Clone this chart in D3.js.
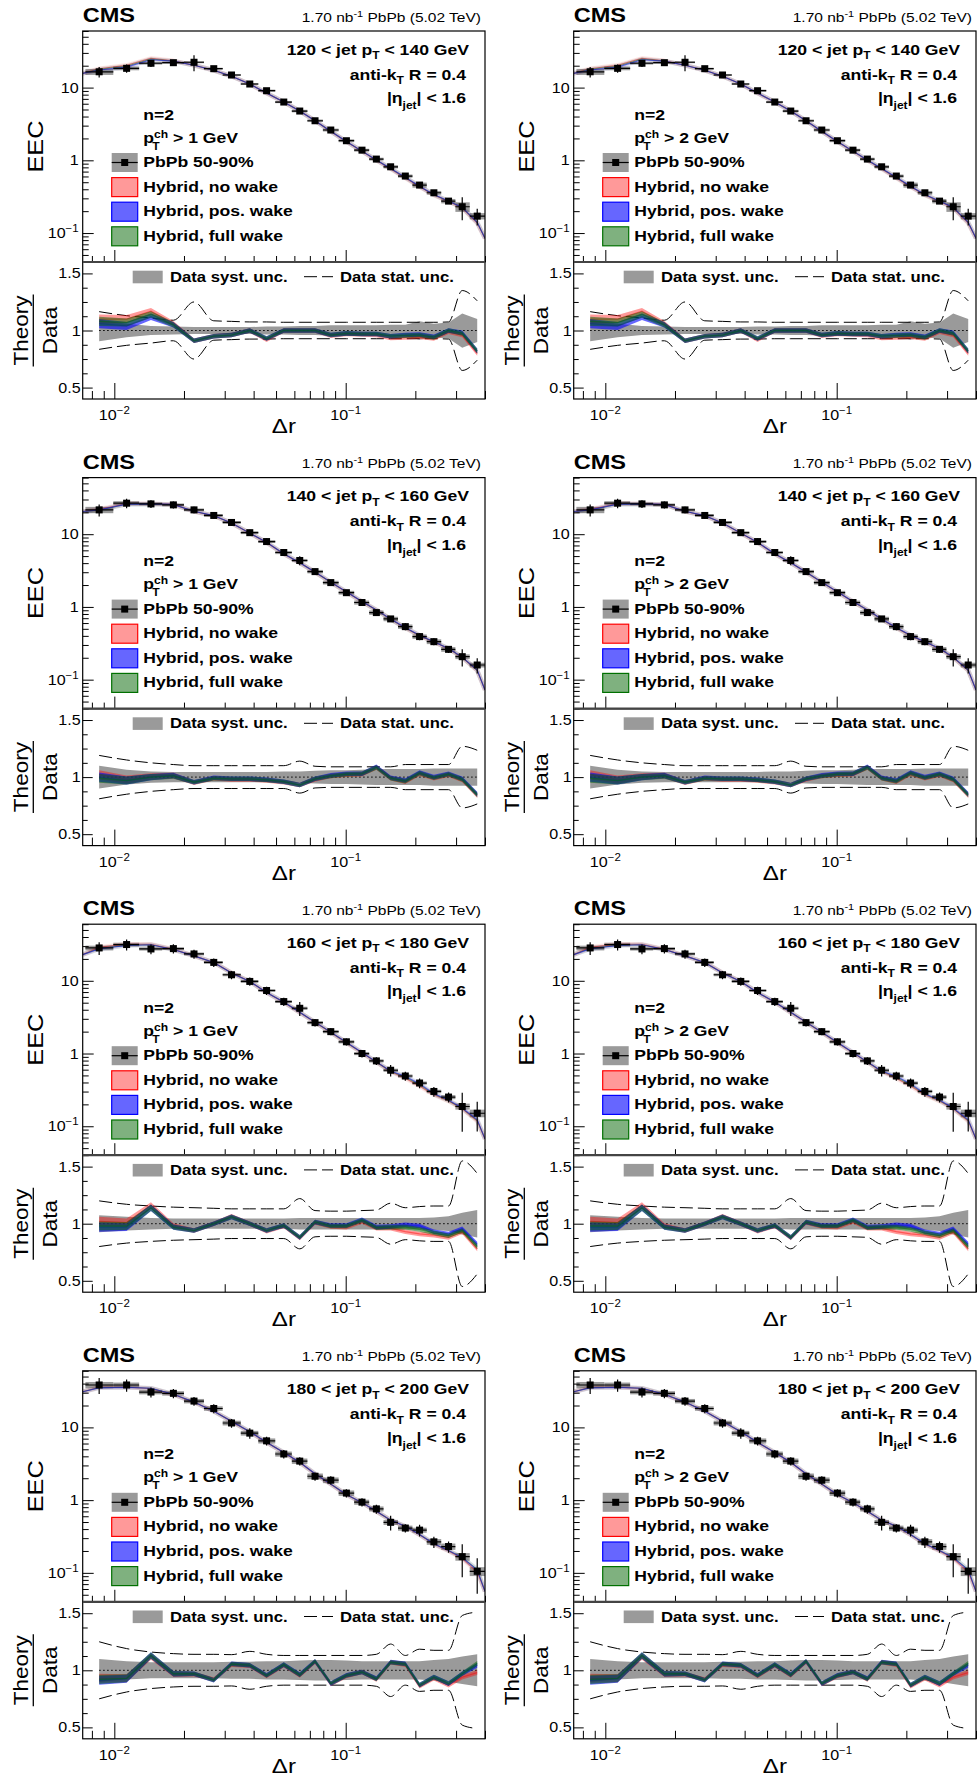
<!DOCTYPE html>
<html><head><meta charset="utf-8">
<script src="https://cdn.jsdelivr.net/npm/d3@7"></script>
<style>body{margin:0;background:#fff}text{font-family:"Liberation Sans",Arial,Helvetica,sans-serif}</style>
</head><body><svg id="c" width="977" height="1780"></svg>
<script>
// ---------------- DATA ----------------
const drCenters = [0.0086, 0.0113, 0.0144, 0.018, 0.0221, 0.0269, 0.0321, 0.0385, 0.0455, 0.054, 0.0633, 0.0737, 0.0862, 0.1007, 0.1176, 0.1357, 0.1564, 0.181, 0.2086, 0.2405, 0.2783, 0.3189, 0.3702];
const drEdges = [0.0075, 0.0099, 0.0128, 0.0161, 0.02, 0.0244, 0.0294, 0.0352, 0.0419, 0.0496, 0.0585, 0.0683, 0.0797, 0.0932, 0.1088, 0.1263, 0.1457, 0.1683, 0.1943, 0.224, 0.2587, 0.2979, 0.3436, 0.4];

const jetPtLo = [120, 140, 160, 180];
const jetPtHi = [140, 160, 180, 200];
const trackPtMin = [1, 2];

const eec120 = [16.5, 18.4, 21.6, 22.0, 22.3, 18.2, 14.9, 11.2, 9.06, 6.33, 4.76, 3.50, 2.61, 1.86, 1.38, 1.04, 0.815, 0.608, 0.457, 0.358, 0.275, 0.230, 0.171];
const eec140 = [21.6, 26.7, 26.1, 25.3, 21.6, 18.1, 14.5, 10.5, 7.92, 5.60, 4.35, 3.06, 2.16, 1.57, 1.15, 0.836, 0.684, 0.536, 0.391, 0.333, 0.261, 0.207, 0.159];
const eec160 = [28.3, 31.5, 27.4, 27.7, 23.4, 17.9, 12.1, 9.8, 7.35, 5.18, 4.19, 2.66, 2.0, 1.45, 1.0, 0.792, 0.589, 0.491, 0.393, 0.301, 0.252, 0.187, 0.151];
const eec180 = [38.3, 38.3, 30.6, 29.4, 23.0, 18.2, 11.5, 8.34, 6.53, 4.31, 3.44, 2.13, 1.88, 1.25, 0.938, 0.758, 0.495, 0.413, 0.387, 0.267, 0.230, 0.167, 0.105];

const stat120 = [0.165, 0.13, 0.11, 0.09, 0.25, 0.085, 0.08, 0.075, 0.075, 0.072, 0.072, 0.072, 0.072, 0.072, 0.072, 0.072, 0.072, 0.072, 0.072, 0.072, 0.075, 0.35, 0.26];
const stat140 = [0.19, 0.15, 0.125, 0.11, 0.1, 0.1, 0.1, 0.1, 0.1, 0.1, 0.14, 0.095, 0.09, 0.09, 0.09, 0.09, 0.09, 0.11, 0.11, 0.11, 0.11, 0.27, 0.235];
const stat160 = [0.2, 0.17, 0.155, 0.145, 0.14, 0.135, 0.13, 0.13, 0.13, 0.13, 0.22, 0.115, 0.11, 0.11, 0.115, 0.12, 0.18, 0.14, 0.15, 0.155, 0.155, 0.55, 0.44];
const stat180 = [0.25, 0.19, 0.16, 0.146, 0.14, 0.14, 0.137, 0.166, 0.14, 0.13, 0.13, 0.13, 0.13, 0.13, 0.13, 0.14, 0.23, 0.13, 0.185, 0.175, 0.175, 0.48, 0.51];

const syst120 = [0.095, 0.06, 0.04, 0.035, 0.03, 0.03, 0.03, 0.03, 0.035, 0.035, 0.04, 0.04, 0.045, 0.045, 0.045, 0.045, 0.05, 0.05, 0.08, 0.06, 0.07, 0.15, 0.1];
const syst140 = [0.1, 0.065, 0.05, 0.045, 0.045, 0.045, 0.045, 0.045, 0.045, 0.05, 0.05, 0.055, 0.06, 0.06, 0.065, 0.07, 0.07, 0.07, 0.07, 0.075, 0.075, 0.075, 0.075];
const syst160 = [0.075, 0.06, 0.05, 0.045, 0.045, 0.045, 0.045, 0.045, 0.045, 0.045, 0.05, 0.05, 0.05, 0.05, 0.05, 0.05, 0.05, 0.05, 0.05, 0.055, 0.065, 0.095, 0.12];
const syst180 = [0.1, 0.08, 0.07, 0.07, 0.07, 0.07, 0.075, 0.075, 0.08, 0.08, 0.085, 0.09, 0.09, 0.085, 0.08, 0.08, 0.08, 0.08, 0.08, 0.09, 0.1, 0.12, 0.14];

// Theory / Data ratios
const noWake120 = [1.1, 1.1, 1.17, 1.06, 0.91, 0.95, 0.96, 1.0, 0.92, 1.0, 1.0, 1.0, 0.955, 0.97, 0.965, 0.96, 0.935, 0.94, 0.945, 0.93, 0.99, 0.96, 0.8];
const posWake120 = [1.06, 1.04, 1.12, 1.05, 0.91, 0.95, 0.96, 1.0, 0.93, 1.0, 1.0, 1.0, 0.96, 0.975, 0.97, 0.97, 0.95, 0.96, 0.965, 0.945, 1.0, 0.98, 0.82];
const fullWake120 = [1.08, 1.07, 1.14, 1.05, 0.91, 0.95, 0.96, 1.0, 0.93, 1.0, 1.0, 1.0, 0.96, 0.975, 0.97, 0.97, 0.95, 0.955, 0.96, 0.94, 1.0, 0.975, 0.82];

const noWake140 = [1.02, 0.98, 1.005, 1.015, 0.95, 0.99, 0.98, 0.98, 0.97, 0.955, 0.93, 0.98, 1.01, 1.02, 1.025, 1.085, 0.99, 0.96, 1.03, 0.99, 1.02, 0.975, 0.84];
const posWake140 = [1.0, 0.97, 1.0, 1.015, 0.955, 0.995, 0.985, 0.985, 0.977, 0.96, 0.93, 0.985, 1.015, 1.03, 1.03, 1.09, 0.995, 0.97, 1.04, 1.0, 1.03, 0.985, 0.85];
const fullWake140 = [0.99, 0.97, 1.0, 1.01, 0.955, 0.99, 0.985, 0.985, 0.975, 0.96, 0.93, 0.985, 1.01, 1.025, 1.03, 1.085, 0.99, 0.965, 1.035, 0.995, 1.025, 0.98, 0.845];

const noWake160 = [1.02, 1.01, 1.16, 0.98, 0.94, 1.0, 1.065, 1.0, 0.935, 0.98, 0.875, 1.01, 0.975, 0.97, 1.02, 0.96, 0.96, 0.93, 0.91, 0.9, 0.88, 0.93, 0.78];
const posWake160 = [0.97, 0.97, 1.14, 0.97, 0.94, 1.0, 1.06, 1.0, 0.94, 0.985, 0.88, 1.015, 0.985, 0.985, 1.035, 0.97, 0.975, 0.99, 0.98, 0.93, 0.91, 0.955, 0.82];
const fullWake160 = [0.98, 0.98, 1.14, 0.97, 0.94, 1.0, 1.06, 1.0, 0.94, 0.985, 0.88, 1.015, 0.98, 0.98, 1.03, 0.965, 0.97, 0.97, 0.95, 0.92, 0.895, 0.94, 0.8];

const noWake180 = [0.93, 0.93, 1.12, 0.965, 0.965, 0.92, 1.05, 1.04, 0.95, 1.045, 0.955, 1.075, 0.88, 0.95, 0.985, 0.92, 1.07, 1.05, 0.86, 0.93, 0.87, 0.94, 0.98];
const posWake180 = [0.913, 0.927, 1.13, 0.97, 0.97, 0.913, 1.058, 1.044, 0.956, 1.05, 0.962, 1.08, 0.883, 0.956, 0.985, 0.927, 1.073, 1.058, 0.87, 0.942, 0.883, 0.97, 1.044];
const fullWake180 = [0.92, 0.93, 1.13, 0.97, 0.97, 0.915, 1.055, 1.045, 0.955, 1.05, 0.96, 1.08, 0.885, 0.955, 0.985, 0.925, 1.07, 1.055, 0.87, 0.94, 0.885, 0.97, 1.06];

const hybridUnc = [0.04, 0.035, 0.028, 0.024, 0.02, 0.02, 0.02, 0.02, 0.02, 0.02, 0.02, 0.02, 0.02, 0.02, 0.02, 0.02, 0.02, 0.02, 0.02, 0.02, 0.02, 0.02, 0.022];
// theory EEC at the ends of the plotted Δr range
const theoryEdgeLeft = [15.7, 20.5, 22.9, 30.9];
const theoryEdgeRight = [0.0845, 0.072, 0.067, 0.0556];

const eecTickVals = [0.1, 1, 10];
const eecTickText = [['10', '−1'], ['1', ''], ['10', '']];
const drTickVals = [0.01, 0.1];
const drTickText = [['10', '−2'], ['10', '−1']];
const ratioTickVals = [0.5, 1, 1.5];
const ratioTickText = ['0.5', '1', '1.5'];
const ratioMinorVals = [0.625, 0.75, 0.875, 1.125, 1.25, 1.375];
const legendLabels = ['PbPb 50-90%', 'Hybrid, no wake', 'Hybrid, pos. wake', 'Hybrid, full wake'];

// ---------------- STYLE / LAYOUT ----------------
const rows = [
  {eec: eec120, stat: stat120, syst: syst120, models: [noWake120, posWake120, fullWake120]},
  {eec: eec140, stat: stat140, syst: syst140, models: [noWake140, posWake140, fullWake140]},
  {eec: eec160, stat: stat160, syst: syst160, models: [noWake160, posWake160, fullWake160]},
  {eec: eec180, stat: stat180, syst: syst180, models: [noWake180, posWake180, fullWake180]}
];
const modelStyle = [
  {stroke: '#ff0000', fill: 'rgba(255,0,0,0.4)', fillU: 'rgba(255,0,0,0.1)'},
  {stroke: '#0000ff', fill: 'rgba(0,0,255,0.6)', fillU: 'rgba(60,60,200,0.12)'},
  {stroke: '#007000', fill: 'rgba(0,100,0,0.5)', fillU: 'rgba(0,100,0,0.1)'}
];
const GRAY = '#9a9a9a';
const SX = 1.15;
const colLeft = [82.7, 573.7], plotW = 402.3;
const rowTop0 = 31, rowStep = 446.6, upperH = 231, ratioH = 137;

const svg = d3.select('#c');
const x = d3.scaleLog().domain([0.0073, 0.4]).range([0, plotW]);
const yU = d3.scaleLog().domain([0.04, 60]).range([upperH, 0]);
const yR = d3.scaleLinear().domain([0.4, 1.6]).range([ratioH, 0]);

function stext(parent, px, py, size, weight, anchor, rotate) {
  const g = parent.append('g').attr('transform', `translate(${px},${py})` + (rotate ? ' rotate(-90)' : '') + ` scale(${SX},1)`);
  return g.append('text').attr('x', 0).attr('y', 0).attr('font-size', size)
    .attr('font-weight', weight || 'normal').attr('text-anchor', anchor || 'start')
    .style('white-space', 'pre').attr('fill', '#000');
}

function drawPanel(r, c) {
  const L = colLeft[c], T = rowTop0 + r * rowStep, RT = T + upperH;
  const id = `p${r}${c}`;
  const defs = svg.append('defs');
  defs.append('clipPath').attr('id', id + 'u').append('rect').attr('width', plotW).attr('height', upperH);
  defs.append('clipPath').attr('id', id + 'r').append('rect').attr('width', plotW).attr('height', ratioH);
  const gu = svg.append('g').attr('transform', `translate(${L},${T})`);
  const gr = svg.append('g').attr('transform', `translate(${L},${RT})`);
  const cu = gu.append('g').attr('clip-path', `url(#${id}u)`);
  const cr = gr.append('g').attr('clip-path', `url(#${id}r)`);
  const row = rows[r];
  const pts = drCenters.map((dr, i) => ({dr, v: row.eec[i], st: row.stat[i], sy: row.syst[i], i}));

  // ---- upper: syst boxes
  cu.selectAll('rect.sy').data(pts).join('rect')
    .attr('x', d => x(drEdges[d.i])).attr('width', d => x(drEdges[d.i + 1]) - x(drEdges[d.i]))
    .attr('y', d => yU(d.v * (1 + d.sy))).attr('height', d => yU(d.v * (1 - d.sy)) - yU(d.v * (1 + d.sy)))
    .attr('fill', GRAY);

  // ---- upper: theory curves
  const lineU = d3.line().x(d => x(d.dr)).y(d => yU(d.v));
  [0, 2, 1].forEach(m => {
    const ratio = row.models[m];
    const tp = [{dr: x.domain()[0], v: theoryEdgeLeft[r]}]
      .concat(drCenters.map((dr, i) => ({dr, v: row.eec[i] * ratio[i]})))
      .concat([{dr: x.domain()[1], v: theoryEdgeRight[r]}]);
    cu.append('path').attr('d', lineU(tp)).attr('fill', 'none')
      .attr('stroke', modelStyle[m].fillU).attr('stroke-width', 4.5).attr('stroke-linejoin', 'round');
    cu.append('path').attr('d', lineU(tp)).attr('fill', 'none')
      .attr('stroke', modelStyle[m].stroke).attr('stroke-opacity', 0.5).attr('stroke-width', 1.1);
  });

  // ---- upper: data points
  cu.selectAll('line.h').data(pts).join('line')
    .attr('x1', d => x(drEdges[d.i])).attr('x2', d => x(drEdges[d.i + 1]))
    .attr('y1', d => yU(d.v)).attr('y2', d => yU(d.v)).attr('stroke', '#000').attr('stroke-width', 1.2);
  cu.selectAll('line.v').data(pts).join('line')
    .attr('x1', d => x(d.dr)).attr('x2', d => x(d.dr))
    .attr('y1', d => yU(d.v * (1 + d.st))).attr('y2', d => yU(d.v * (1 - d.st)))
    .attr('stroke', '#000').attr('stroke-width', 1.2);
  cu.selectAll('rect.mk').data(pts).join('rect')
    .attr('x', d => x(d.dr) - 3.5).attr('y', d => yU(d.v) - 3.5).attr('width', 7).attr('height', 7).attr('fill', '#000');

  // ---- ratio: syst band
  cr.append('path').datum(pts)
    .attr('d', d3.area().x(d => x(d.dr)).y0(d => yR(1 - d.sy)).y1(d => yR(1 + d.sy)))
    .attr('fill', GRAY);
  cr.append('line').attr('x1', x(drCenters[0])).attr('x2', x(drCenters[drCenters.length - 1]))
    .attr('y1', yR(1)).attr('y2', yR(1)).attr('stroke', '#000').attr('stroke-width', 1).attr('stroke-dasharray', '1.5,2.5');
  // stat dashed
  [1, -1].forEach(s => {
    cr.append('path').datum(pts)
      .attr('d', d3.line().curve(d3.curveMonotoneX).x(d => x(d.dr)).y(d => yR(1 + s * d.st)))
      .attr('fill', 'none').attr('stroke', '#000').attr('stroke-width', 1).attr('stroke-dasharray', '13,5');
  });
  // theory ratio bands
  [0, 1, 2].forEach(m => {
    const ratio = row.models[m];
    const rp = drCenters.map((dr, i) => ({dr, v: ratio[i], u: hybridUnc[i]}));
    cr.append('path').datum(rp)
      .attr('d', d3.area().x(d => x(d.dr)).y0(d => yR(d.v - d.u)).y1(d => yR(d.v + d.u)))
      .attr('fill', modelStyle[m].fill);
    cr.append('path').datum(rp)
      .attr('d', d3.line().x(d => x(d.dr)).y(d => yR(d.v)))
      .attr('fill', 'none').attr('stroke', modelStyle[m].stroke).attr('stroke-opacity', 0.45).attr('stroke-width', 1.3);
  });

  // ---- axes (ticks inside)
  const noDomain = sel => sel.select('.domain').remove();
  const majorY = eecTickVals, minorY = yU.ticks().filter(v => !majorY.some(m => Math.abs(m - v) / m < 1e-6));
  const majorX = drTickVals, minorX = x.ticks().filter(v => !majorX.some(m => Math.abs(m - v) / m < 1e-6));
  gu.append('g').call(d3.axisLeft(yU).tickValues(minorY).tickSize(-6).tickFormat('')).call(noDomain);
  gu.append('g').call(d3.axisLeft(yU).tickValues(majorY).tickSize(-11).tickFormat('')).call(noDomain);
  gu.append('g').attr('transform', `translate(0,${upperH})`).call(d3.axisBottom(x).tickValues(minorX).tickSize(-6).tickFormat('')).call(noDomain);
  gu.append('g').attr('transform', `translate(0,${upperH})`).call(d3.axisBottom(x).tickValues(majorX).tickSize(-12).tickFormat('')).call(noDomain);
  gr.append('g').call(d3.axisLeft(yR).tickValues(ratioMinorVals).tickSize(-5).tickFormat('')).call(noDomain);
  gr.append('g').call(d3.axisLeft(yR).tickValues(ratioTickVals).tickSize(-10).tickFormat('')).call(noDomain);
  gr.append('g').attr('transform', `translate(0,${ratioH})`).call(d3.axisBottom(x).tickValues(minorX).tickSize(-8).tickFormat('')).call(noDomain);
  gr.append('g').attr('transform', `translate(0,${ratioH})`).call(d3.axisBottom(x).tickValues(majorX).tickSize(-16).tickFormat('')).call(noDomain);
  svg.selectAll('.tick line').attr('stroke', '#000');

  // frames
  gu.append('rect').attr('width', plotW).attr('height', upperH).attr('fill', 'none').attr('stroke', '#000').attr('stroke-width', 1.2);
  gr.append('rect').attr('width', plotW).attr('height', ratioH).attr('fill', 'none').attr('stroke', '#000').attr('stroke-width', 1.2);
  gr.append('line').attr('x1', 0).attr('x2', plotW).attr('y1', 0).attr('y2', 0).attr('stroke', '#444').attr('stroke-width', 2.2);

  // tick labels
  eecTickVals.forEach((v, k) => {
    const t = stext(gu, -4, yU(v) + 5, 14, 'normal', 'end');
    t.append('tspan').text(eecTickText[k][0]);
    if (eecTickText[k][1]) t.append('tspan').attr('font-size', 10).attr('dy', -6).text(eecTickText[k][1]);
  });
  ratioTickVals.forEach((v, k) => {
    stext(gr, -2, yR(v) + 5, 14, 'normal', 'end').text(ratioTickText[k]);
  });
  drTickVals.forEach((v, k) => {
    const t = stext(gr, x(v), ratioH + 21, 14, 'normal', 'middle');
    t.append('tspan').text(drTickText[k][0]);
    t.append('tspan').attr('font-size', 10).attr('dy', -6).text(drTickText[k][1]);
  });

  // axis titles
  stext(svg, L - 40, T + upperH / 2, 22, 'normal', 'middle', true).text('EEC');
  stext(svg, L - 54.4, RT + ratioH / 2, 19.6, 'normal', 'middle', true).text('Theory');
  svg.append('line').attr('x1', L - 49.4).attr('x2', L - 49.4).attr('y1', RT + ratioH / 2 - 36).attr('y2', RT + ratioH / 2 + 36)
    .attr('stroke', '#000').attr('stroke-width', 1.3);
  stext(svg, L - 26, RT + ratioH / 2, 19.6, 'normal', 'middle', true).text('Data');
  stext(svg, L + plotW / 2, RT + ratioH + 34, 21, 'normal', 'middle').text('Δr');

  // header
  stext(svg, L, T - 9, 20.5, 'bold', 'start').text('CMS');
  const lumi = stext(svg, L + plotW - 4, T - 9.5, 13.5, 'normal', 'end');
  lumi.append('tspan').text('1.70 nb');
  lumi.append('tspan').attr('font-size', 9.5).attr('dy', -5).text('-1');
  lumi.append('tspan').attr('dy', 5).text(' PbPb (5.02 TeV)');

  // panel labels
  const t1 = stext(gu, plotW - 16, 23.5, 15.3, 'bold', 'end');
  t1.append('tspan').text(`${jetPtLo[r]} < jet p`);
  t1.append('tspan').attr('font-size', 10.5).attr('dy', 4.5).text('T');
  t1.append('tspan').attr('dy', -4.5).text(` < ${jetPtHi[r]} GeV`);
  const t2 = stext(gu, plotW - 19, 48.5, 15.3, 'bold', 'end');
  t2.append('tspan').text('anti-k');
  t2.append('tspan').attr('font-size', 10.5).attr('dy', 4.5).text('T');
  t2.append('tspan').attr('dy', -4.5).text(' R = 0.4');
  const t3 = stext(gu, plotW - 19, 72, 15.3, 'bold', 'end');
  t3.append('tspan').text('|η');
  t3.append('tspan').attr('font-size', 10.5).attr('dy', 6).text('jet');
  t3.append('tspan').attr('dy', -6).text('| < 1.6');
  stext(gu, 60.6, 88.5, 15.3, 'bold', 'start').text('n=2');
  const t4 = stext(gu, 60.6, 111.5, 15.3, 'bold', 'start');
  t4.append('tspan').text('p');
  const ch = t4.append('tspan').attr('font-size', 10.5).attr('dy', -5).text('ch');
  const chw = ch.node().getComputedTextLength();
  const tt = t4.append('tspan').attr('font-size', 10.5).attr('dx', -chw - 1.5).attr('dy', 12).text('T');
  const tw = tt.node().getComputedTextLength();
  t4.append('tspan').attr('dx', chw + 1.5 - tw).attr('dy', -7).text(` > ${trackPtMin[c]} GeV`);

  // legend (upper)
  legendLabels.forEach((lab, k) => {
    const yb = 136 + k * 24.6;
    if (k === 0) {
      gu.append('rect').attr('x', 29).attr('y', yb - 14).attr('width', 26).attr('height', 19).attr('fill', GRAY);
      gu.append('line').attr('x1', 29).attr('x2', 55).attr('y1', yb - 4.5).attr('y2', yb - 4.5).attr('stroke', '#000').attr('stroke-width', 1.2);
      gu.append('rect').attr('x', 42 - 3.5).attr('y', yb - 8).attr('width', 7).attr('height', 7).attr('fill', '#000');
    } else {
      const ms = modelStyle[k - 1];
      gu.append('rect').attr('x', 29).attr('y', yb - 14).attr('width', 26).attr('height', 19)
        .attr('fill', ms.fill).attr('stroke', ms.stroke).attr('stroke-width', 1.2);
    }
    stext(gu, 60.6, yb, 15.3, 'bold', 'start').text(lab);
  });

  // legend (ratio)
  gr.append('rect').attr('x', 50).attr('y', 8.7).attr('width', 30).attr('height', 12.6).attr('fill', GRAY);
  stext(gr, 87.3, 19.7, 14.5, 'bold', 'start').text('Data syst. unc.');
  gr.append('line').attr('x1', 221.3).attr('x2', 250.3).attr('y1', 14.7).attr('y2', 14.7)
    .attr('stroke', '#000').attr('stroke-width', 1).attr('stroke-dasharray', '13,5');
  stext(gr, 257.3, 19.7, 14.5, 'bold', 'start').text('Data stat. unc.');
}

for (let r = 0; r < 4; r++) for (let c = 0; c < 2; c++) drawPanel(r, c);
</script></body></html>
